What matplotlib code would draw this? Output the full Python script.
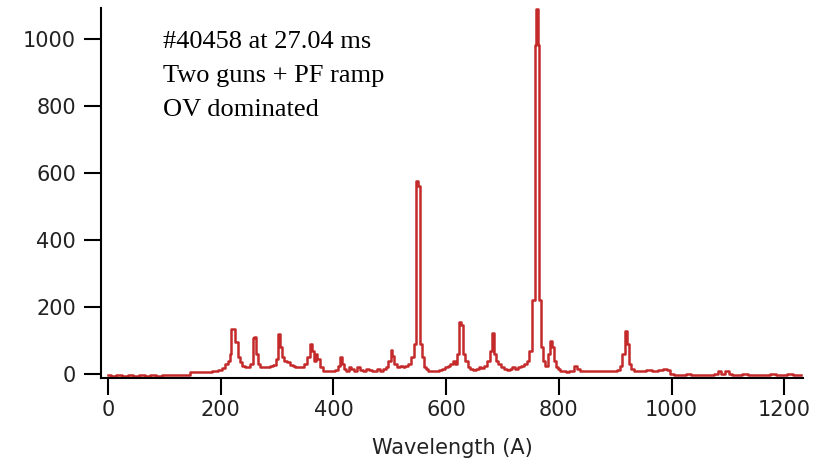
import matplotlib
matplotlib.use("Agg")
import matplotlib.pyplot as plt

# Spectrum (wavelength in A, intensity)
wavelength = [0, 10, 20, 30, 40, 50, 60, 70, 80, 90, 100, 110, 120, 130, 140,
              150, 160, 170, 180, 190, 200, 205, 210, 215, 218, 220, 224, 228, 232, 236,
              240, 245, 250, 255, 258, 261, 264, 268, 272, 276, 280, 285, 290, 295,
              300, 303, 306, 310, 315, 320, 325, 330, 335, 340, 345, 350, 355, 360,
              363, 367, 370, 373, 378, 385, 390, 395, 400, 405, 410, 413, 416, 420,
              425, 430, 433, 440, 445, 450, 455, 460, 465, 470, 475, 480, 485, 490,
              495, 500, 503, 506, 510, 515, 520, 525, 530, 535, 540, 545, 548, 552,
              555, 558, 562, 566, 570, 575, 580, 585, 590, 595, 600, 605, 610, 615,
              618, 622, 625, 628, 632, 636, 640, 645, 650, 655, 660, 665, 670, 675,
              679, 683, 686, 690, 695, 700, 705, 710, 715, 720, 725, 730, 735, 740,
              745, 750, 755, 759, 761, 763, 766, 770, 774, 778, 782, 786, 789, 792,
              796, 800, 805, 810, 815, 820, 825, 830, 834, 840, 850, 860, 870, 880,
              890, 900, 905, 910, 915, 919, 922, 926, 930, 935, 940, 950, 960, 970,
              980, 990, 995, 1000, 1010, 1020, 1030, 1040, 1050, 1060, 1070, 1080,
              1085, 1090, 1100, 1105, 1110, 1120, 1130, 1140, 1150, 1160, 1170, 1180,
              1190, 1200, 1210, 1220, 1230]
intensity = [-4, -6, -3, -5, -2, -5, -4, -6, -3, -5, -4, -3, -4, -3, -2,
             5, 5, 5, 6, 8, 12, 18, 30, 40, 60, 134, 134, 95, 50, 35,
             25, 22, 20, 30, 108, 110, 60, 30, 22, 20, 20, 22, 25, 28,
             45, 119, 80, 50, 40, 35, 28, 25, 20, 20, 22, 30, 50, 90,
             70, 40, 60, 45, 20, 10, 8, 10, 8, 12, 25, 50, 30, 15,
             10, 22, 15, 10, 20, 12, 8, 15, 12, 8, 10, 15, 8, 15,
             20, 40, 72, 55, 30, 20, 25, 20, 25, 30, 50, 90, 575, 560,
             90, 50, 20, 15, 10, 8, 10, 8, 12, 15, 20, 25, 30, 40,
             30, 60, 155, 145, 60, 40, 20, 15, 12, 15, 20, 18, 25, 40,
             70, 122, 60, 40, 30, 20, 15, 12, 15, 20, 15, 20, 25, 30,
             40, 70, 220, 982, 1090, 982, 220, 80, 40, 25, 60, 98, 80, 40,
             20, 15, 10, 8, 6, 8, 10, 25, 15, 8, 8, 10, 8, 10,
             8, 10, 12, 25, 60, 128, 90, 30, 15, 10, 8, 10, 12, 10,
             12, 15, 12, 0, -2, -3, -1, -3, -2, -4, -2, -1,
             8, 0, 10, -1, -2, -3, -1, -2, -4, -2, -3, -1,
             -2, -3, -1, -2, -3]

x_ticks = [0, 200, 400, 600, 800, 1000, 1200]
y_ticks = [0, 200, 400, 600, 800, 1000]
annotation_lines = ["#40458 at 27.04 ms", "Two guns + PF ramp", "OV dominated"]
x_label = "Wavelength (A)"

fig = plt.figure(figsize=(8.16, 4.68), dpi=100)
ax = fig.add_axes([101 / 816, 1 - 378 / 468, (803 - 101) / 816, (378 - 8) / 468])

ax.plot(wavelength, intensity, drawstyle="steps-mid", color="#c42a2a", lw=1.8)

ax.set_xlim(-12.4, 1233)
ax.set_ylim(-12, 1092)
ax.set_xticks(x_ticks)
ax.set_yticks(y_ticks)
for s in ["top", "right"]:
    ax.spines[s].set_visible(False)
for s in ["left", "bottom"]:
    ax.spines[s].set_linewidth(1.5)
    ax.spines[s].set_color("black")
ax.tick_params(axis="both", direction="out", length=12, width=1.5,
               labelsize=15, labelcolor="#222222", pad=6)
ax.tick_params(axis="x", pad=4)
ax.set_xlabel(x_label, fontsize=15, color="#222222", labelpad=13)

for i, line in enumerate(annotation_lines):
    fig.text(163 / 816, 1 - (48 + 34 * i) / 468, line, family="Liberation Serif",
             fontsize=19, color="black", va="baseline", ha="left")

fig.savefig("out.png", dpi=100)
